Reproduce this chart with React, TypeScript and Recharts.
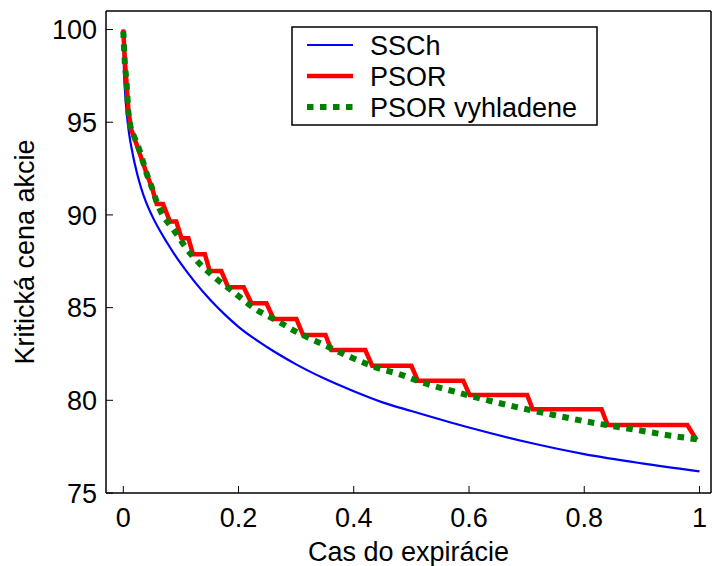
import React from 'react';
import { LineChart, Line, XAxis, YAxis } from 'recharts';

// SSCh - smooth analytic boundary
const sschX = [0, 0.001, 0.003, 0.006, 0.01, 0.015, 0.02, 0.03, 0.04, 0.05, 0.075, 0.1, 0.125, 0.15, 0.175, 0.2, 0.25, 0.3, 0.35, 0.4, 0.45, 0.5, 0.6, 0.7, 0.8, 0.9, 1.0];
const sschY = [100, 98.0, 96.7, 95.5, 94.4, 93.5, 92.75, 91.55, 90.65, 89.95, 88.55, 87.37, 86.35, 85.45, 84.66, 83.96, 82.86, 81.94, 81.16, 80.49, 79.89, 79.42, 78.53, 77.75, 77.1, 76.6, 76.17];

// PSOR - staircase vertices
const psorX = [0, 0.003, 0.006, 0.009, 0.014, 0.022, 0.032, 0.042, 0.05, 0.058, 0.069, 0.081, 0.092, 0.101, 0.113, 0.121, 0.1416, 0.15, 0.17, 0.182, 0.209, 0.2225, 0.2485, 0.261, 0.3005, 0.312, 0.351, 0.361, 0.42, 0.432, 0.5, 0.511, 0.59, 0.601, 0.701, 0.7105, 0.83, 0.8406, 0.979, 0.995];
const psorY = [100, 98.2, 97.0, 95.6, 94.6, 93.9, 93.0, 92.1, 91.45, 90.59, 90.59, 89.64, 89.64, 88.74, 88.74, 87.88, 87.88, 86.98, 86.98, 86.1, 86.1, 85.23, 85.23, 84.39, 84.39, 83.52, 83.52, 82.71, 82.71, 81.87, 81.87, 81.06, 81.06, 80.29, 80.29, 79.52, 79.52, 78.67, 78.67, 77.86];

// PSOR vyhladene - smoothed PSOR
const smoothX = [0, 0.0023, 0.006, 0.0087, 0.012, 0.02, 0.028, 0.035, 0.042, 0.05, 0.058, 0.0665, 0.081, 0.094, 0.107, 0.121, 0.156, 0.191, 0.228, 0.269, 0.306, 0.348, 0.393, 0.436, 0.48, 0.523, 0.564, 0.612, 0.679, 0.747, 0.815, 0.884, 0.953, 1.0];
const smoothY = [99.9, 98.4, 97.0, 95.6, 94.85, 94.15, 93.5, 92.8, 92.1, 91.45, 90.7, 90.1, 89.45, 88.9, 88.3, 87.75, 86.7, 85.85, 84.95, 84.25, 83.6, 83.0, 82.35, 81.8, 81.4, 80.92, 80.56, 80.16, 79.66, 79.21, 78.79, 78.44, 78.08, 77.88];

const xTicks = [0, 0.2, 0.4, 0.6, 0.8, 1];
const yTicks = [75, 80, 85, 90, 95, 100];

const seriesNames = ['SSCh', 'PSOR', 'PSOR vyhladene'];

const toPoints = (xs: number[], ys: number[]) => xs.map((x, i) => ({ x, y: ys[i] }));

const FONT = '"Liberation Sans", Arial, Helvetica, sans-serif';
const tickStyle = { fill: '#000', fontSize: 27, fontFamily: FONT };
const axisLine = { stroke: '#000', strokeWidth: 1.5 };
const tickLine = { stroke: '#000', strokeWidth: 1 };

const App: React.FC = () => {
  const ssch = toPoints(sschX, sschY);
  const psor = toPoints(psorX, psorY);
  const smooth = toPoints(smoothX, smoothY);

  return (
    <div style={{ position: 'absolute', left: 0, top: 0, width: 712, height: 566, background: '#fff' }}>
      <LineChart width={712} height={566} margin={{ top: 10, right: 0, bottom: 0, left: 0 }}>
        <XAxis
          xAxisId="bottom"
          type="number"
          dataKey="x"
          domain={[-0.03, 1.02]}
          ticks={xTicks}
          allowDataOverflow
          height={73}
          tickSize={-7}
          tickMargin={22}
          tick={tickStyle}
          axisLine={axisLine}
          tickLine={tickLine}
          tickFormatter={(v: number) => String(v)}
          label={{ value: 'Cas do expirácie', position: 'insideBottom', offset: 5, style: { fill: '#000', fontSize: 27, fontFamily: FONT } }}
        />
        <XAxis
          xAxisId="top"
          orientation="top"
          type="number"
          domain={[-0.03, 1.02]}
          ticks={xTicks}
          allowDataOverflow
          height={1}
          tickSize={-7}
          tick={false}
          axisLine={axisLine}
          tickLine={tickLine}
        />
        <YAxis
          yAxisId="left"
          type="number"
          domain={[75, 101]}
          ticks={yTicks}
          allowDataOverflow
          width={106}
          tickSize={-7}
          tickMargin={16}
          tick={tickStyle}
          axisLine={axisLine}
          tickLine={tickLine}
          label={{ value: 'Kritická cena akcie', angle: -90, position: 'insideLeft', offset: 24, style: { textAnchor: 'middle', fill: '#000', fontSize: 27, fontFamily: FONT } }}
        />
        <YAxis
          yAxisId="right"
          orientation="right"
          type="number"
          domain={[75, 101]}
          ticks={yTicks}
          allowDataOverflow
          width={1}
          tickSize={-7}
          tick={false}
          axisLine={axisLine}
          tickLine={tickLine}
        />
        <Line
          xAxisId="bottom"
          yAxisId="left"
          data={ssch}
          dataKey="y"
          name={seriesNames[0]}
          type="monotone"
          stroke="#0000ff"
          strokeWidth={2.2}
          dot={false}
          isAnimationActive={false}
        />
        <Line
          xAxisId="bottom"
          yAxisId="left"
          data={psor}
          dataKey="y"
          name={seriesNames[1]}
          type="linear"
          stroke="#ff0000"
          strokeWidth={4.5}
          dot={false}
          isAnimationActive={false}
        />
        <Line
          xAxisId="bottom"
          yAxisId="left"
          data={smooth}
          dataKey="y"
          name={seriesNames[2]}
          type="monotone"
          stroke="#008000"
          strokeWidth={6}
          strokeDasharray="6.5 6.5"
          strokeLinecap="butt"
          dot={false}
          isAnimationActive={false}
        />
      </LineChart>

      {/* legend box */}
      <svg
        width={307}
        height={100}
        style={{ position: 'absolute', left: 291, top: 26 }}
      >
        <rect x={1} y={1} width={305} height={98} fill="#fff" stroke="#000" strokeWidth={1.5} />
        <line x1={16} x2={62} y1={19} y2={19} stroke="#0000ff" strokeWidth={2.2} />
        <line x1={16} x2={62} y1={50} y2={50} stroke="#ff0000" strokeWidth={4.5} />
        <line x1={16} x2={62} y1={81} y2={81} stroke="#008000" strokeWidth={6} strokeDasharray="6.5 6.5" />
        {seriesNames.map((name, i) => (
          <text key={name} x={79} y={19 + i * 31 + 9.5} fontSize={27} fontFamily={FONT} fill="#000">
            {name}
          </text>
        ))}
      </svg>
    </div>
  );
};

export default App;
